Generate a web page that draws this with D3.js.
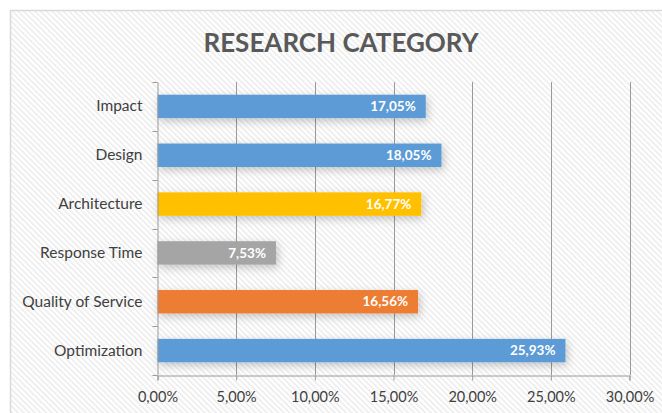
<!DOCTYPE html>
<html><head><meta charset="utf-8">
<script src="https://cdnjs.cloudflare.com/ajax/libs/d3/7.8.5/d3.min.js"></script>
<style>html,body{margin:0;padding:0;background:#fff;}svg{display:block;}</style>
</head><body>
<script>
const categories = ["Impact","Design","Architecture","Response Time","Quality of Service","Optimization"];
const values = [17.05, 18.05, 16.77, 7.53, 16.56, 25.93];
const colors = ["#5B9BD5","#5B9BD5","#FFC000","#A5A5A5","#ED7D31","#5B9BD5"];
const xTicks = [0,5,10,15,20,25,30];
const title = "RESEARCH CATEGORY";

(function(){
const W = 662, H = 413;
const FONT = "Lato, 'Open Sans', sans-serif";
const svg = d3.select("body").append("svg").attr("width", W).attr("height", H);
const defs = svg.append("defs");
const pat = defs.append("pattern").attr("id","stripes").attr("patternUnits","userSpaceOnUse")
  .attr("width",4).attr("height",4).attr("patternTransform","rotate(-45)");
pat.append("rect").attr("width",4).attr("height",4).attr("fill","#ffffff");
pat.append("rect").attr("width",1.6).attr("height",4).attr("fill","#ececec");
const flt = defs.append("filter").attr("id","shadow").attr("x","-10%").attr("y","-40%").attr("width","130%").attr("height","220%");
flt.append("feDropShadow").attr("dx",2).attr("dy",3).attr("stdDeviation",4).attr("flood-color","#000").attr("flood-opacity",0.22);

svg.append("rect").attr("x",10.5).attr("y",10.5).attr("width",W).attr("height",H)
  .attr("fill","url(#stripes)").attr("stroke","#d9d9d9").attr("stroke-width",1.5);

const fmt = v => v.toFixed(2).replace(".", ",") + "%";

const pL = 157.5, pR = 629.5, pT = 82, pB = 375;
const x = d3.scaleLinear().domain([0,30]).range([pL,pR]);
const y = d3.scaleBand().domain(categories).range([pT,pB]).paddingInner(0.52).paddingOuter(0.26);

// gridlines
svg.append("g").selectAll("line").data(xTicks.slice(1)).join("line")
  .attr("x1", d => Math.round(x(d))+0.5).attr("x2", d => Math.round(x(d))+0.5)
  .attr("y1", pT).attr("y2", pB).attr("stroke","#9a9a9a").attr("stroke-width",1);

// bars
svg.append("g").selectAll("rect").data(categories).join("rect")
  .attr("x", x(0)).attr("y", d => y(d)).attr("width", (d,i) => x(values[i]) - x(0))
  .attr("height", y.bandwidth()).attr("fill", (d,i) => colors[i]).attr("filter","url(#shadow)");

// x axis
const xAxis = d3.axisBottom(x).tickValues(xTicks).tickFormat(d => d.toFixed(2).replace(".", ",") + "%").tickSizeOuter(0).tickSize(5).tickPadding(11);
const gx = svg.append("g").attr("transform", `translate(0,${pB+0.5})`).call(xAxis);
gx.select(".domain").attr("stroke","#9a9a9a");
gx.selectAll(".tick line").attr("stroke","#9a9a9a");
gx.selectAll("text").attr("font-family",FONT).attr("font-size",14.5).attr("fill","#404040");

// y axis
const yAxis = d3.axisLeft(y).tickSize(0).tickPadding(15);
const gy = svg.append("g").attr("transform", `translate(${pL},0)`).call(yAxis);
gy.select(".domain").attr("stroke","#9a9a9a");
gy.selectAll("text").attr("font-family",FONT).attr("font-size",15.5).attr("fill","#404040");
// category boundary ticks
const bounds = d3.range(categories.length+1).map(i => pT + i*(pB-pT)/categories.length);
svg.append("g").selectAll("line").data(bounds).join("line")
  .attr("x1", pL-5).attr("x2", pL).attr("y1", d => Math.round(d)+0.5).attr("y2", d => Math.round(d)+0.5)
  .attr("stroke","#9a9a9a");

// data labels
svg.append("g").selectAll("text").data(categories).join("text")
  .attr("x", (d,i) => x(values[i]) - 10).attr("y", d => y(d) + y.bandwidth()/2)
  .attr("dy","0.35em").attr("text-anchor","end")
  .attr("font-family",FONT).attr("font-weight","bold").attr("font-size",13.5)
  .attr("fill","#ffffff").text((d,i) => fmt(values[i]));

// title
svg.append("text").attr("x", 341).attr("y", 52).attr("text-anchor","middle")
  .attr("font-family",FONT).attr("font-weight","bold").attr("font-size",26)
  .attr("fill","#595959").text(title);
})();
</script>
</body></html>
